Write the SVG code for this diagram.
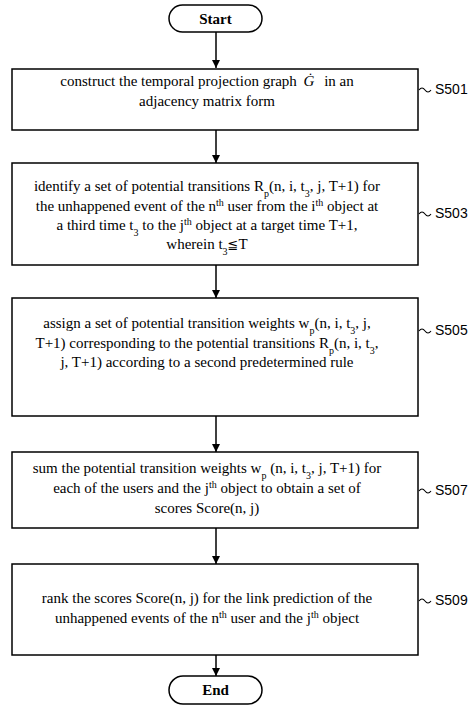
<svg xmlns="http://www.w3.org/2000/svg" width="472" height="708" viewBox="0 0 472 708" font-family="Liberation Serif, Times New Roman, serif">
<defs>
<style>
.box{fill:#fff;stroke:#000;stroke-width:1.5}
.t{font-size:15px;fill:#000;text-anchor:middle}
.b{font-weight:bold}
.lab{font-size:14px;fill:#000}
.sub{font-size:10px}
.ln{stroke:#000;stroke-width:1.5;fill:none}
.tl{stroke:#000;stroke-width:1.1;fill:none}
</style>
</defs>
<g id="connectors">
<path class="ln" d="M216,32 V68"/>
<path d="M212,60 L220,60 L216,68 Z" fill="#000"/>
<path class="ln" d="M216,130 V163"/>
<path d="M212,155 L220,155 L216,163 Z" fill="#000"/>
<path class="ln" d="M216,265 V298"/>
<path d="M212,290 L220,290 L216,298 Z" fill="#000"/>
<path class="ln" d="M216,416 V452"/>
<path d="M212,444 L220,444 L216,452 Z" fill="#000"/>
<path class="ln" d="M216,528 V564"/>
<path d="M212,556 L220,556 L216,564 Z" fill="#000"/>
<path class="ln" d="M216,655 V676"/>
<path d="M212,668 L220,668 L216,676 Z" fill="#000"/>
</g>
<g id="start">
<rect class="box" x="169" y="5" width="93" height="27" rx="13.5"/>
<text class="t b" x="215.5" y="23.5">Start</text>
</g>
<g id="S501">
<rect class="box" x="12" y="69" width="406" height="61"/>
<text class="t" x="207" y="86">construct the temporal projection graph <tspan font-style="italic" dx="3">Ġ</tspan><tspan dx="6"> in an</tspan></text>
<text class="t" x="207" y="106">adjacency matrix form</text>
<path class="tl" d="M419,90 q3,-4 6,0 t6,0"/>
<text class="lab" x="435" y="94" font-family="Liberation Sans, Arial, sans-serif">S501</text>
</g>
<g id="S503">
<rect class="box" x="12" y="163" width="406" height="102"/>
<text class="t" x="207" y="191">identify a set of potential transitions R<tspan class="sub" baseline-shift="sub">p</tspan>(n, i, t<tspan class="sub" baseline-shift="sub">3</tspan>, j, T+1) for</text>
<text class="t" x="207" y="211">the unhappened event of the n<tspan class="sub" baseline-shift="super">th</tspan> user from the i<tspan class="sub" baseline-shift="super">th</tspan> object at</text>
<text class="t" x="207" y="230">a third time t<tspan class="sub" baseline-shift="sub">3</tspan> to the j<tspan class="sub" baseline-shift="super">th</tspan> object at a target time T+1,</text>
<text class="t" x="207" y="249">wherein t<tspan class="sub" baseline-shift="sub">3</tspan><tspan font-family="DejaVu Sans, sans-serif" font-size="13">≦</tspan>T</text>
<path class="tl" d="M419,214 q3,-4 6,0 t6,0"/>
<text class="lab" x="435" y="218" font-family="Liberation Sans, Arial, sans-serif">S503</text>
</g>
<g id="S505">
<rect class="box" x="12" y="298" width="406" height="118"/>
<text class="t" x="207" y="328">assign a set of potential transition weights w<tspan class="sub" baseline-shift="sub">p</tspan>(n, i, t<tspan class="sub" baseline-shift="sub">3</tspan>, j,</text>
<text class="t" x="207" y="348">T+1) corresponding to the potential transitions R<tspan class="sub" baseline-shift="sub">p</tspan>(n, i, t<tspan class="sub" baseline-shift="sub">3</tspan>,</text>
<text class="t" x="207" y="367">j, T+1) according to a second predetermined rule</text>
<path class="tl" d="M419,331 q3,-4 6,0 t6,0"/>
<text class="lab" x="435" y="335" font-family="Liberation Sans, Arial, sans-serif">S505</text>
</g>
<g id="S507">
<rect class="box" x="12" y="452" width="406" height="76"/>
<text class="t" x="207" y="473">sum the potential transition weights w<tspan class="sub" baseline-shift="sub">p</tspan> (n, i, t<tspan class="sub" baseline-shift="sub">3</tspan>, j, T+1) for</text>
<text class="t" x="207" y="493">each of the users and the j<tspan class="sub" baseline-shift="super">th</tspan> object to obtain a set of</text>
<text class="t" x="207" y="513">scores Score(n, j)</text>
<path class="tl" d="M419,491 q3,-4 6,0 t6,0"/>
<text class="lab" x="435" y="495" font-family="Liberation Sans, Arial, sans-serif">S507</text>
</g>
<g id="S509">
<rect class="box" x="12" y="564" width="406" height="91"/>
<text class="t" x="207" y="603">rank the scores Score(n, j) for the link prediction of the</text>
<text class="t" x="207" y="623">unhappened events of the n<tspan class="sub" baseline-shift="super">th</tspan> user and the j<tspan class="sub" baseline-shift="super">th</tspan> object</text>
<path class="tl" d="M419,601 q3,-4 6,0 t6,0"/>
<text class="lab" x="435" y="605" font-family="Liberation Sans, Arial, sans-serif">S509</text>
</g>
<g id="end">
<rect class="box" x="169" y="676" width="93" height="28" rx="14"/>
<text class="t b" x="215.5" y="695">End</text>
</g>
</svg>
